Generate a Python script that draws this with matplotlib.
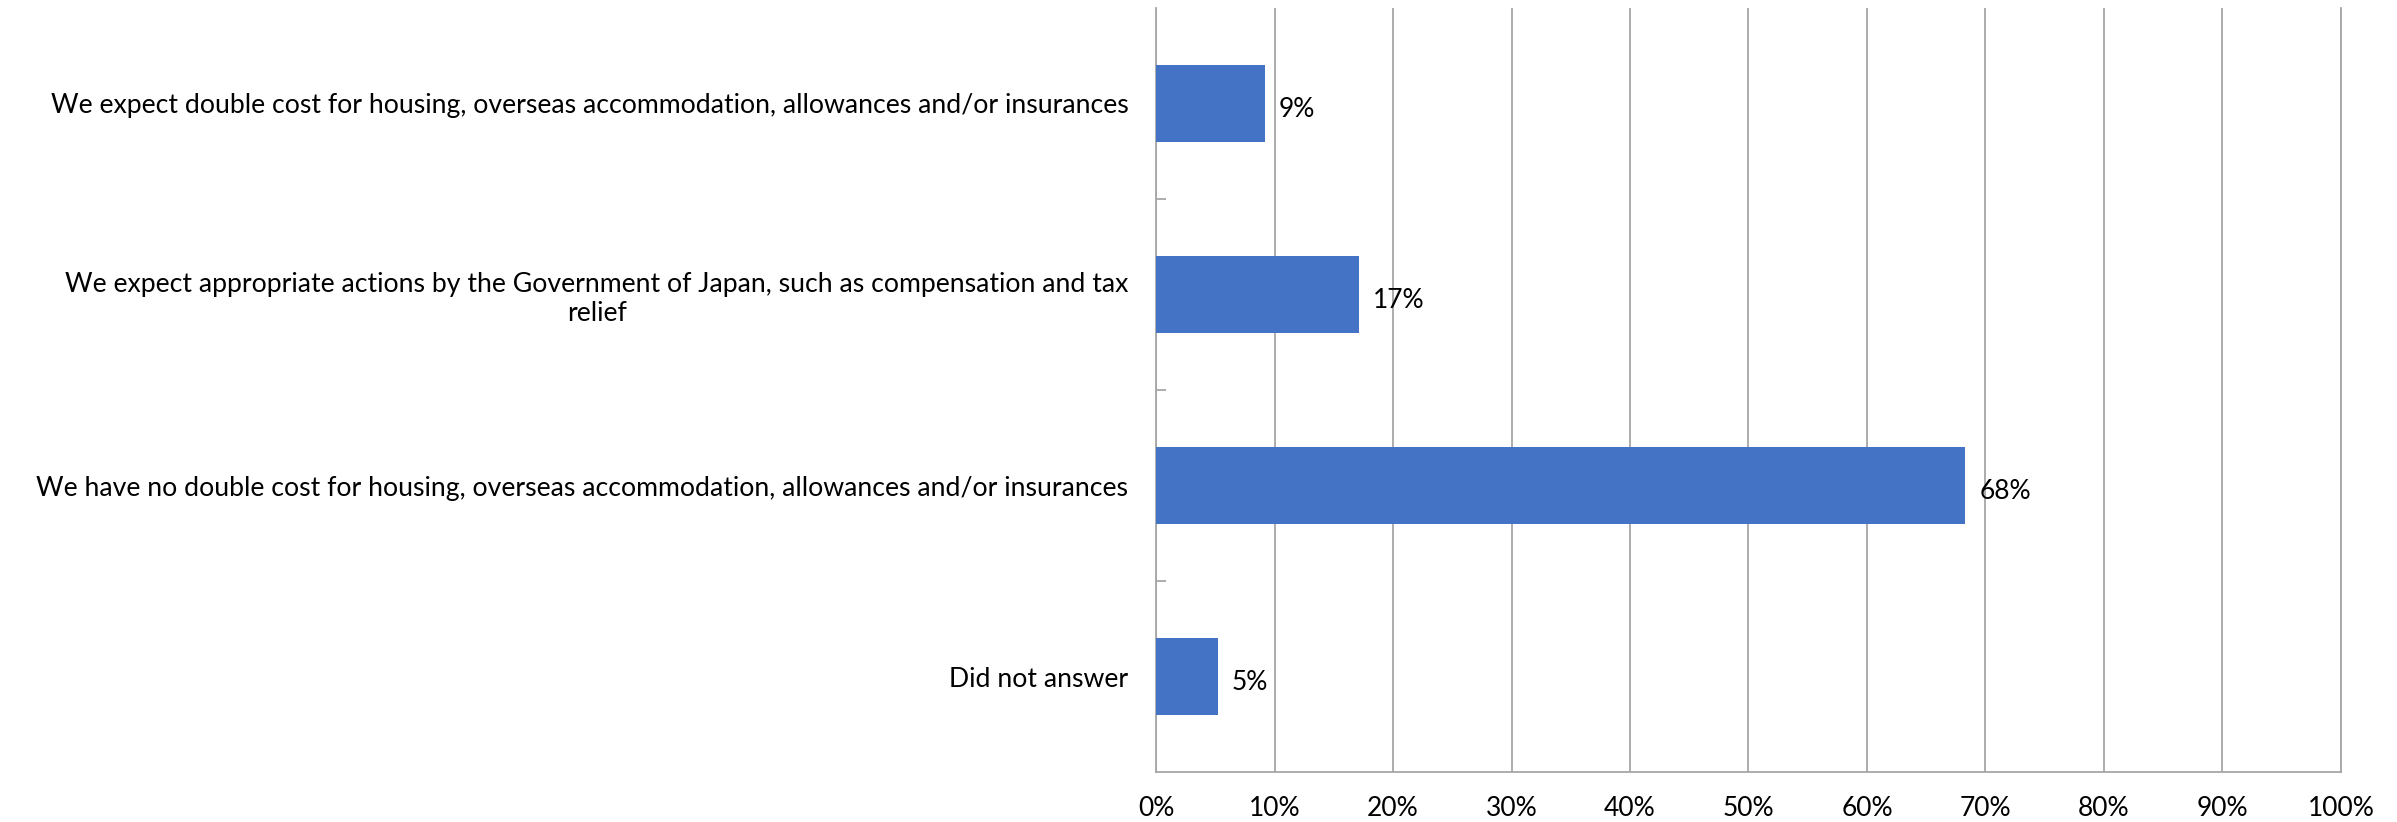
import matplotlib.pyplot as plt
from matplotlib.ticker import FuncFormatter

categories = [
    "Did not answer",
    "We have no double cost for housing, overseas accommodation, allowances and/or insurances",
    "We expect appropriate actions by the Government of Japan, such as compensation and tax\nrelief",
    "We expect double cost for housing, overseas accommodation, allowances and/or insurances",
]
values = [5.2, 68.3, 17.1, 9.2]
value_labels = ["5%", "68%", "17%", "9%"]
x_ticks = [0, 10, 20, 30, 40, 50, 60, 70, 80, 90, 100]

plt.rcParams['font.family'] = ['Lato', 'DejaVu Sans']

fig = plt.figure(figsize=(23.97, 8.22), dpi=100)
ax = fig.add_axes([0.4823, 0.0608, 0.4943, 0.9295])

y = list(range(len(categories)))
ax.barh(y, values, height=0.4, color="#4472C4", zorder=3)

# data labels just right of each bar
for yi, v, lab in zip(y, values, value_labels):
    ax.annotate(lab, (v, yi), xytext=(10, -4), textcoords="offset points",
                ha="left", va="center", fontsize=19, color="black", zorder=4)

ax.set_xlim(0, 100)
ax.set_ylim(-0.5, len(categories) - 0.5)
ax.set_xticks(x_ticks)
ax.xaxis.set_major_formatter(FuncFormatter(lambda v, p: f"{int(v)}%"))
ax.grid(axis="x", color="#A6A6A6", linewidth=1.3, zorder=0)

ax.set_yticks(y)
ax.set_yticklabels(categories, fontsize=19.2, multialignment="center", linespacing=1.18)
ax.set_yticks([0.5, 1.5, 2.5], minor=True)
ax.tick_params(axis="y", which="major", length=0, pad=20)
ax.tick_params(axis="y", which="minor", direction="in", length=7, color="#A6A6A6", width=1.3)
ax.tick_params(axis="x", length=0, pad=17, labelsize=19)

ax.spines["top"].set_visible(False)
for side in ["left", "right", "bottom"]:
    ax.spines[side].set_color("#A6A6A6")
    ax.spines[side].set_linewidth(1.3)

fig.savefig("out.png", dpi=100)
